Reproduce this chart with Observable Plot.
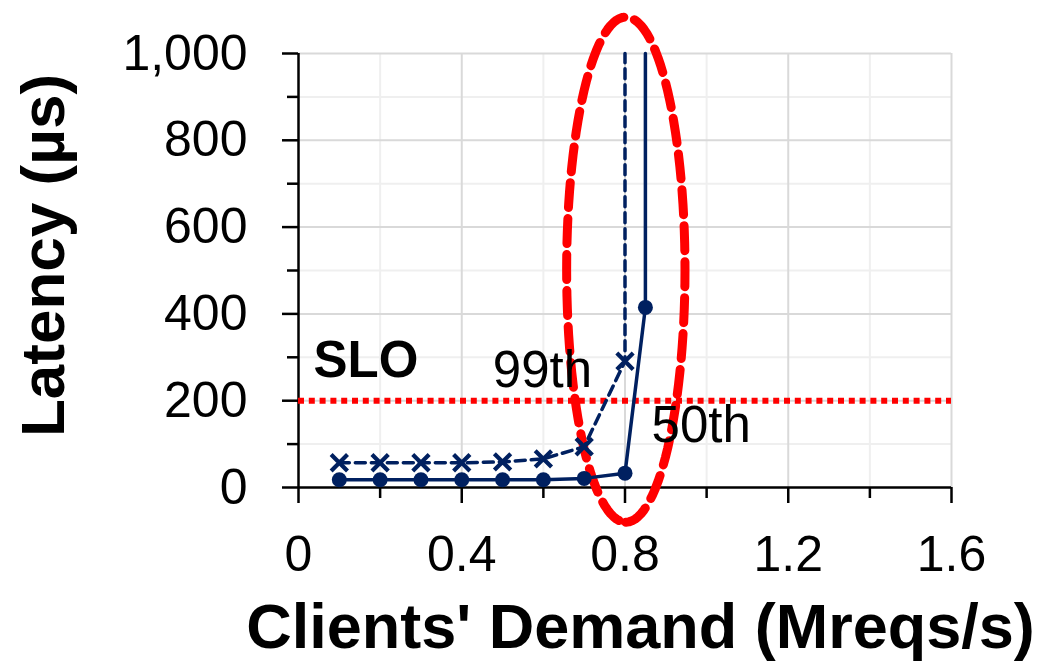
<!DOCTYPE html>
<html>
<head>
<meta charset="utf-8">
<script src="https://cdn.jsdelivr.net/npm/d3@7"></script>
<script src="https://cdn.jsdelivr.net/npm/@observablehq/plot@0.6"></script>
<style>
  html, body { margin: 0; padding: 0; background: #fff; }
  #chart { width: 1054px; height: 661px; }
</style>
</head>
<body>
<div id="chart"></div>
<script>
// ---- data ----
const demand50 = [0.1, 0.2, 0.3, 0.4, 0.5, 0.6, 0.7, 0.8, 0.85, 0.85];
const latency50 = [18, 18, 18, 18, 18, 18, 21, 33, 415, 1000];
const demand99 = [0.1, 0.2, 0.3, 0.4, 0.5, 0.6, 0.7, 0.8, 0.8];
const latency99 = [57, 57, 57, 57, 59, 66, 94, 291, 1000];
const sloValue = [200];

const xMajorTicks = [0, 0.4, 0.8, 1.2, 1.6];
const xMinorTicks = [0.2, 0.6, 1.0, 1.4];
const yMajorTicks = [0, 200, 400, 600, 800, 1000];
const yMinorTicks = [100, 300, 500, 700, 900];

const labelText = ["SLO", "99th", "50th"];
const labelX = [0.037, 0.476, 0.865];
const labelY = [292, 270, 142];

// highlight ellipse (annotation): centre and radii in data units
const ellipseCenter = [0.802, 502];
const ellipseRadii = [0.145, 582];

// ---- build tables ----
const s50 = demand50.map((x, i) => ({x, y: latency50[i]}));
const s99 = demand99.map((x, i) => ({x, y: latency99[i]}));
const labels = labelText.map((t, i) => ({t, x: labelX[i], y: labelY[i]}));
const ellipse = d3.range(0, 121).map(k => {
  const a = -Math.PI / 2 + (k / 120) * 2 * Math.PI;
  return {x: ellipseCenter[0] + ellipseRadii[0] * Math.cos(a), y: ellipseCenter[1] + ellipseRadii[1] * Math.sin(a)};
});

const navy = "#002060";
const font = "'Liberation Sans', Arial, sans-serif";
const thousands = d3.format(",");

const chart = Plot.plot({
  width: 1054,
  height: 661,
  marginLeft: 298,
  marginRight: 103,
  marginTop: 53,
  marginBottom: 174,
  style: {fontFamily: font, fontSize: "50px", background: "#fff", color: "#000", overflow: "visible"},
  x: {domain: [0, 1.6]},
  y: {domain: [0, 1000]},
  marks: [
    Plot.gridX(xMinorTicks, {stroke: "#efefef", strokeOpacity: 1, strokeWidth: 2}),
    Plot.gridY(yMinorTicks, {stroke: "#efefef", strokeOpacity: 1, strokeWidth: 2}),
    Plot.gridX(xMajorTicks.slice(1), {stroke: "#d9d9d9", strokeOpacity: 1, strokeWidth: 2}),
    Plot.gridY(yMajorTicks.slice(1), {stroke: "#d9d9d9", strokeOpacity: 1, strokeWidth: 2}),
    Plot.axisX({ticks: xMinorTicks, tickSize: 11, tickFormat: () => "", label: null, strokeWidth: 2.5}),
    Plot.axisX({ticks: xMajorTicks, tickSize: 16, tickPadding: 32, tickFormat: d => String(d), label: null, strokeWidth: 2.5, fontSize: 50}),
    Plot.axisY({ticks: yMinorTicks, tickSize: 11, tickFormat: () => "", label: null, strokeWidth: 2.5}),
    Plot.axisY({ticks: yMajorTicks, tickSize: 16, tickPadding: 35, tickFormat: d => thousands(d), label: null, strokeWidth: 2.5, fontSize: 50}),
    Plot.ruleX([0], {y1: 0, y2: 1000, stroke: "#000", strokeWidth: 2.5}),
    Plot.ruleY([0], {x1: 0, x2: 1.6, stroke: "#000", strokeWidth: 2.5}),
    Plot.ruleY(sloValue, {x1: 0, x2: 1.6, stroke: "#ff0000", strokeWidth: 6, strokeDasharray: "6,4.8"}),
    Plot.line(ellipse, {x: "x", y: "y", stroke: "#ff0000", strokeWidth: 9, strokeDasharray: "25,11", curve: "linear"}),
    Plot.line(s99, {x: "x", y: "y", stroke: navy, strokeWidth: 3.5, strokeDasharray: "10,6"}),
    Plot.line(s50, {x: "x", y: "y", stroke: navy, strokeWidth: 3.5}),
    Plot.dot(s99.slice(0, -1), {x: "x", y: "y", symbol: "times", r: 7.5, stroke: navy, strokeWidth: 4.2}),
    Plot.dot(s50.slice(0, -1), {x: "x", y: "y", r: 7.5, fill: navy, stroke: "none"}),
    Plot.text(labels.slice(0, 1), {x: "x", y: "y", text: "t", textAnchor: "start", lineAnchor: "middle", fontSize: 51, fontWeight: "bold", fill: "#000"}),
    Plot.text(labels.slice(1), {x: "x", y: "y", text: "t", textAnchor: "start", lineAnchor: "middle", fontSize: 51, fill: "#000"}),
    Plot.text(["Clients' Demand (Mreqs/s)"], {frameAnchor: "bottom", textAnchor: "middle", dx: 15.5, dy: 140, lineAnchor: "middle", fontSize: 63, fontWeight: "bold", fill: "#000"}),
    Plot.text(["Latency (µs)"], {frameAnchor: "left", textAnchor: "middle", dx: -254.5, dy: -15, rotate: -90, lineAnchor: "middle", fontSize: 62, fontWeight: "bold", fill: "#000"})
  ]
});
document.getElementById("chart").appendChild(chart);
</script>
</body>
</html>
